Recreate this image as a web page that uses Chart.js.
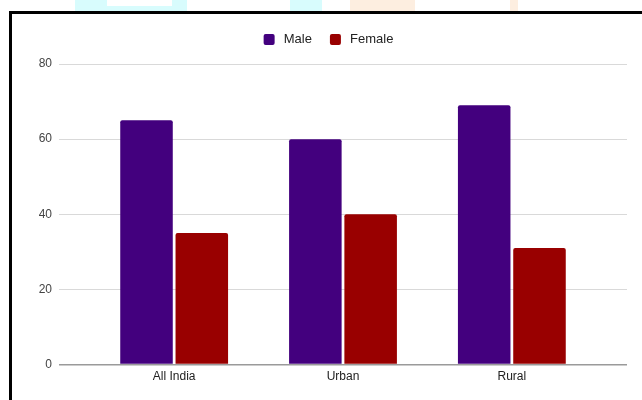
<!DOCTYPE html>
<html>
<head>
<meta charset="utf-8">
<script src="https://cdn.jsdelivr.net/npm/chart.js@4.4.1/dist/chart.umd.min.js"></script>
<style>
  html, body { margin: 0; padding: 0; background: #fff; }
  #wrap { position: relative; width: 642px; height: 400px; overflow: hidden; }
  .deco { position: absolute; top: 0; height: 11px; }
  #frame { position: absolute; left: 9px; top: 11px; width: 700px; height: 420px;
           border-top: 3px solid #000; border-left: 3px solid #000; }
  canvas { position: absolute; left: 0; top: 0; }
</style>
</head>
<body>
<div id="wrap">
  <div class="deco" style="left:75px;width:112px;background:#d8fcfd;"></div>
  <div class="deco" style="left:107px;width:65px;height:6px;background:#fff;"></div>
  <div class="deco" style="left:290px;width:32px;background:#d8fcfd;"></div>
  <div class="deco" style="left:350px;width:65px;background:#fdeee0;"></div>
  <div class="deco" style="left:510px;width:8px;background:#fdeee0;"></div>
  <div id="frame"></div>
  <canvas id="c" width="642" height="400"></canvas>
</div>
<script>
const categories = ["All India", "Urban", "Rural"];
const maleValues = [65, 60, 69];
const femaleValues = [35, 40, 31];
const yTicks = [0, 20, 40, 60, 80];

const toPoints = vals => vals.map((v, i) => ({ x: i, y: v }));

const legendFit = {
  id: 'legendFit',
  beforeInit(chart) {
    const orig = chart.legend.fit;
    chart.legend.fit = function () {
      orig.call(this);
      this.height = 49;
    };
  }
};

const FONT = 'Liberation Sans, Arial, sans-serif';

new Chart(document.getElementById('c'), {
  type: 'bar',
  data: {
    datasets: [
      { label: 'Male', data: toPoints(maleValues), backgroundColor: '#43007e',
        borderRadius: { topLeft: 2, topRight: 2 }, borderSkipped: 'bottom',
        categoryPercentage: 0.655, barPercentage: 0.95 },
      { label: 'Female', data: toPoints(femaleValues), backgroundColor: '#990000',
        borderRadius: { topLeft: 2, topRight: 2 }, borderSkipped: 'bottom',
        categoryPercentage: 0.655, barPercentage: 0.95 }
    ]
  },
  plugins: [legendFit],
  options: {
    responsive: false,
    animation: false,
    layout: { padding: { left: 30, right: 15, top: 15, bottom: 11 } },
    plugins: {
      tooltip: { enabled: false },
      legend: {
        position: 'top',
        labels: {
          boxWidth: 11, boxHeight: 11, padding: 18,
          color: '#222', font: { family: FONT, size: 13 },
          useBorderRadius: true, borderRadius: 2,
          generateLabels: chart => {
            const items = Chart.defaults.plugins.legend.labels.generateLabels(chart);
            items.forEach(it => { it.text = '\u2009' + it.text; });
            return items;
          }
        }
      }
    },
    scales: {
      x: {
        type: 'linear',
        offset: false,
        min: -0.682, max: 2.682,
        grid: { display: false, drawTicks: false },
        border: { display: false },
        afterBuildTicks: s => { s.ticks = categories.map((c, i) => ({ value: i })); },
        ticks: {
          autoSkip: false, maxRotation: 0, padding: 5,
          color: '#222', font: { family: FONT, size: 12 },
          callback: v => categories[v]
        }
      },
      y: {
        min: 0, max: 80,
        afterBuildTicks: s => { s.ticks = yTicks.map(v => ({ value: v })); },
        afterFit: s => { s.width = 29; },
        border: { display: false },
        grid: {
          drawTicks: false,
          color: c => c.tick && c.tick.value === 0 ? '#9a9a9a' : '#d9d9d9',
          lineWidth: c => c.tick && c.tick.value === 0 ? 1.6 : 1
        },
        ticks: {
          padding: 7,
          color: '#444', font: { family: FONT, size: 12 }
        }
      }
    }
  }
});
</script>
</body>
</html>
